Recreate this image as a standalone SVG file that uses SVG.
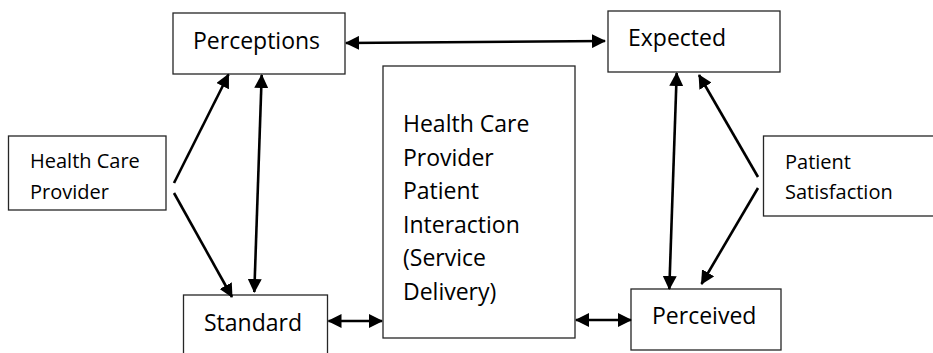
<svg xmlns="http://www.w3.org/2000/svg" width="933" height="353" viewBox="0 0 933 353">
<style>
.box{fill:#fff;stroke:#262626;stroke-width:1.3}
.t{font-family:"Open Sans","Liberation Sans",sans-serif;fill:#000}
.big{font-size:23px}
.small{font-size:20px}
.c{fill:none;stroke:#000;stroke-width:2.6}
</style>
<defs>
<marker id="ah" viewBox="0 0 14 14" refX="13" refY="7" markerWidth="14" markerHeight="14" markerUnits="userSpaceOnUse" orient="auto-start-reverse">
<path d="M0,0 L14,7 L0,14 z" fill="#000"/>
</marker>
</defs>
<rect width="933" height="353" fill="#fff"/>
<g id="perceptions">
<rect class="box" x="173" y="13" width="172" height="61"/>
<text class="t big" x="193" y="49">Perceptions</text>
</g>
<g id="expected">
<rect class="box" x="608" y="11" width="172" height="61"/>
<text class="t big" x="628" y="46">Expected</text>
</g>
<g id="health-care-provider">
<rect class="box" x="8.5" y="136" width="157.5" height="74"/>
<text class="t small" x="30" y="168">Health Care</text>
<text class="t small" x="30" y="199">Provider</text>
</g>
<g id="interaction">
<rect class="box" x="383" y="66" width="192" height="272"/>
<text class="t big" x="403" y="132">Health Care</text>
<text class="t big" x="403" y="165.5">Provider</text>
<text class="t big" x="403" y="199">Patient</text>
<text class="t big" x="403" y="232.5">Interaction</text>
<text class="t big" x="403" y="266">(Service</text>
<text class="t big" x="403" y="299.5">Delivery)</text>
</g>
<g id="patient-satisfaction">
<rect class="box" x="763.5" y="136" width="180" height="80"/>
<text class="t small" x="785" y="169">Patient</text>
<text class="t small" x="785" y="198.5">Satisfaction</text>
</g>
<g id="standard">
<rect class="box" x="183.5" y="295" width="144" height="70"/>
<text class="t big" x="204" y="331">Standard</text>
</g>
<g id="perceived">
<rect class="box" x="631" y="289" width="150" height="61"/>
<text class="t big" x="652" y="324">Perceived</text>
</g>
<g id="connectors">
<line class="c" x1="346" y1="43" x2="605" y2="41" marker-start="url(#ah)" marker-end="url(#ah)"/>
<line class="c" x1="174" y1="183" x2="228.5" y2="74.5" marker-end="url(#ah)"/>
<line class="c" x1="174" y1="193" x2="232" y2="297" marker-end="url(#ah)"/>
<line class="c" x1="261.7" y1="75" x2="254.3" y2="292" marker-start="url(#ah)" marker-end="url(#ah)"/>
<line class="c" x1="328.5" y1="321" x2="382" y2="321" marker-start="url(#ah)" marker-end="url(#ah)"/>
<line class="c" x1="676.7" y1="73" x2="669.3" y2="289" marker-start="url(#ah)" marker-end="url(#ah)"/>
<line class="c" x1="758" y1="177" x2="699" y2="75" marker-end="url(#ah)"/>
<line class="c" x1="758" y1="188" x2="701.5" y2="284" marker-end="url(#ah)"/>
<line class="c" x1="576" y1="320" x2="631" y2="320" marker-start="url(#ah)" marker-end="url(#ah)"/>
</g>
</svg>
